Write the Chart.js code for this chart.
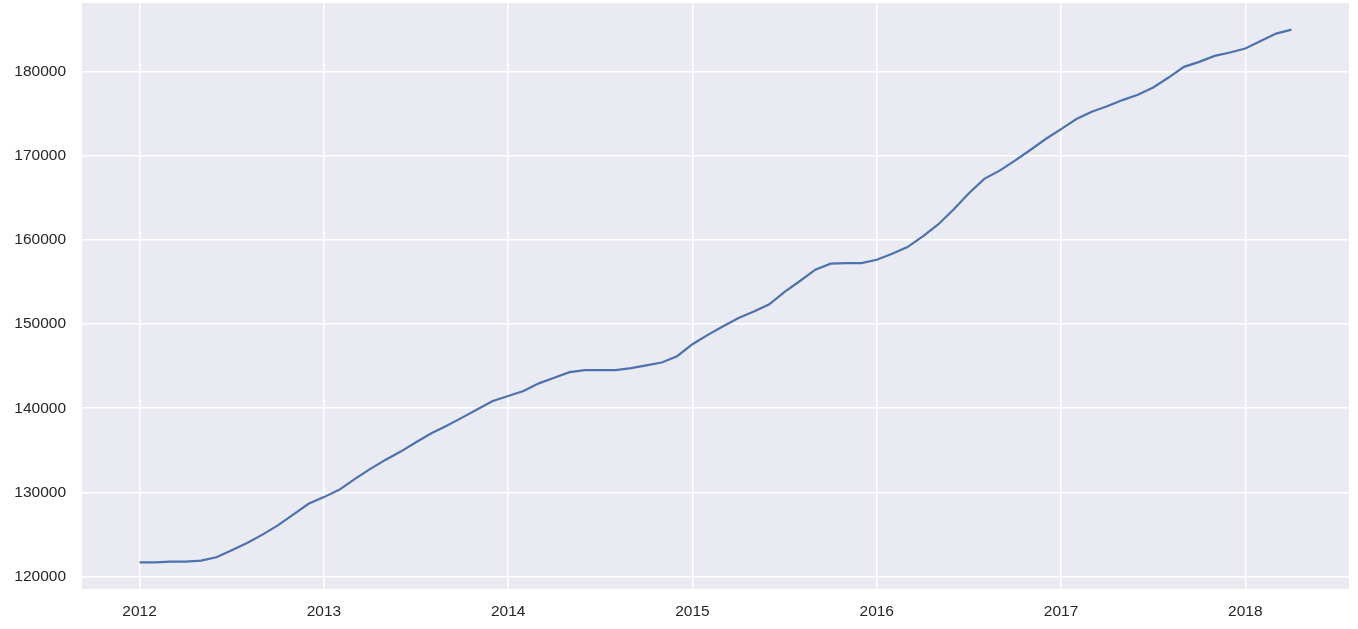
<!DOCTYPE html>
<html>
<head>
<meta charset="utf-8">
<script src="https://cdn.jsdelivr.net/npm/chart.js@4.4.1/dist/chart.umd.min.js"></script>
<style>
  html, body { margin: 0; padding: 0; background: #ffffff; }
  #wrap { width: 1358px; height: 629px; position: relative; }
</style>
</head>
<body>
<div id="wrap"><canvas id="priceChart"></canvas></div>
<script>
// monthly series, first of each month, Jan 2012 .. Apr 2018
const startYear = 2012;
const values = [
  121690, 121690, 121780, 121780, 121900, 122290, 123120, 123990, 124980, 126080, 127350, 128650,
  129440, 130310, 131570, 132760, 133860, 134850, 135960, 137030, 137930, 138880, 139870, 140850,
  141460, 142040, 142950, 143620, 144290, 144530, 144530, 144530, 144760, 145080, 145430, 146180,
  147600, 148710, 149740, 150720, 151480, 152350, 153810, 155110, 156460, 157170, 157240, 157240,
  157640, 158350, 159140, 160400, 161830, 163600, 165530, 167240, 168220, 169410, 170670, 171980,
  173160, 174350, 175210, 175880, 176600, 177230, 178100, 179280, 180550, 181140, 181850, 182250,
  182720, 183630, 184500, 184970
];
const xTicks = [2012, 2013, 2014, 2015, 2016, 2017, 2018];
const yTicks = [120000, 130000, 140000, 150000, 160000, 170000, 180000];

const points = values.map((v, i) => ({ x: startYear + i / 12, y: v }));

// matplotlib-style 5% margins around the data
const xFirst = points[0].x, xLast = points[points.length - 1].x;
const xPad = (xLast - xFirst) * 0.05;
const yLo = Math.min(...values), yHi = Math.max(...values);
const yPad = (yHi - yLo) * 0.05;

const tickFont = { family: "'Liberation Sans', Arial, sans-serif", size: 15.5 };

const plotBackground = {
  id: 'plotBackground',
  beforeDraw(chart) {
    const a = chart.chartArea;
    const ctx = chart.ctx;
    ctx.save();
    ctx.fillStyle = '#EAEAF2';
    ctx.fillRect(a.left, a.top, a.right - a.left, a.bottom - a.top);
    ctx.restore();
  }
};

new Chart(document.getElementById('priceChart'), {
  type: 'line',
  data: {
    datasets: [{
      data: points,
      borderColor: '#4C72B0',
      borderWidth: 2.2,
      pointRadius: 0,
      tension: 0,
      fill: false
    }]
  },
  options: {
    responsive: true,
    maintainAspectRatio: false,
    animation: false,
    layout: { padding: { left: 0, right: 9, top: 3, bottom: 0 } },
    plugins: { legend: { display: false }, tooltip: { enabled: false } },
    scales: {
      x: {
        type: 'linear',
        min: xFirst - xPad,
        max: xLast + xPad,
        afterBuildTicks: s => { s.ticks = xTicks.map(v => ({ value: v })); },
        afterFit: s => { s.height = 40; s.paddingLeft = 0; s.paddingRight = 0; },
        grid: { color: '#ffffff', lineWidth: 1.5, drawTicks: false },
        border: { display: false },
        ticks: {
          padding: 13,
          color: '#262626',
          font: tickFont,
          maxRotation: 0,
          callback: v => String(v)
        }
      },
      y: {
        type: 'linear',
        min: yLo - yPad,
        max: yHi + yPad,
        afterBuildTicks: s => { s.ticks = yTicks.map(v => ({ value: v })); },
        afterFit: s => { s.width = 82; s.paddingTop = 0; s.paddingBottom = 0; },
        grid: { color: '#ffffff', lineWidth: 1.5, drawTicks: false },
        border: { display: false },
        ticks: {
          padding: 16,
          color: '#262626',
          font: tickFont,
          callback: v => String(v)
        }
      }
    }
  },
  plugins: [plotBackground]
});
</script>
</body>
</html>
